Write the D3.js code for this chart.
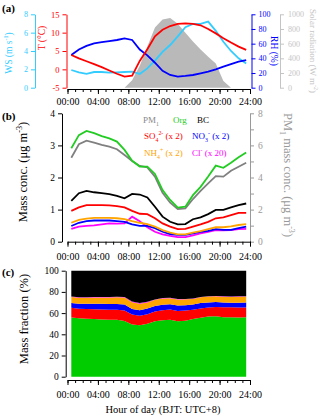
<!DOCTYPE html>
<html>
<head>
<meta charset="utf-8">
<script src="https://cdn.jsdelivr.net/npm/d3@7"></script>
<style>
  html, body { margin: 0; padding: 0; background: #fff; }
  svg { display: block; font-family: "Liberation Serif", "Times New Roman", "DejaVu Serif", serif; }
</style>
</head>
<body>
<svg id="chart" width="320" height="417"></svg>
<script>
// hour of day (bin centres) and x tick labels
const hours = [0.5, 1.5, 2.5, 3.5, 4.5, 5.5, 6.5, 7.5, 8.5, 9.5, 10.5, 11.5,
  12.5, 13.5, 14.5, 15.5, 16.5, 17.5, 18.5, 19.5, 20.5, 21.5, 22.5, 23.5];
const hourTicks = [0, 4, 8, 12, 16, 20, 24];
const hourLabels = ['00:00', '04:00', '08:00', '12:00', '16:00', '20:00', '24:00'];

// (a) meteorology
const ws = [1.93, 1.68, 1.5, 1.71, 1.71, 1.64, 1.68, 1.71, 1.75, 1.5, 2.1, 2.95,
  3.9, 4.65, 5.6, 6.6, 6.95, 6.95, 7.2, 6.2, 5.0, 4.0, 3.2, 2.65];
const temp = [3.9, 3.0, 2.2, 1.4, 0.6, -0.3, -1.2, -2.0, -1.7, 2.3, 5.5, 9.0,
  10.8, 11.8, 12.4, 12.5, 12.4, 12.0, 11.0, 9.8, 8.5, 7.3, 6.2, 5.3];
const rh = [44.5, 52, 57, 60.5, 62, 63.6, 65, 67.3, 65, 52, 44, 34,
  23, 17.3, 15, 16, 17.3, 19.6, 21.8, 25, 28.6, 32, 35.4, 37.7];
const solar = [0, 0, 0, 0, 0, 0, 0, 0, 100, 300, 560, 820,
  930, 950, 870, 750, 630, 520, 420, 330, 90, 0, 0, 0];

// (b) species, as plotted (SO4, NO3, NH4 x2, Cl x20)
const pm1 = [5.23, 6.07, 6.29, 6.17, 6.03, 5.92, 5.76, 5.40, 5.03, 4.72, 4.63, 4.05,
  3.05, 2.43, 2.04, 2.08, 2.66, 3.16, 3.64, 4.09, 4.05, 4.42, 4.67, 4.92];
const org = [2.91, 3.32, 3.45, 3.38, 3.29, 3.22, 3.12, 2.86, 2.52, 2.34, 2.34, 2.11,
  1.61, 1.30, 1.06, 1.09, 1.45, 1.71, 2.03, 2.37, 2.30, 2.46, 2.63, 2.78];
const bc = [1.27, 1.51, 1.58, 1.54, 1.51, 1.48, 1.43, 1.35, 1.49, 1.47, 1.38, 1.09,
  0.78, 0.62, 0.54, 0.55, 0.70, 0.76, 0.86, 0.99, 0.99, 1.07, 1.14, 1.19];
const so4 = [0.96, 1.07, 1.14, 1.14, 1.14, 1.13, 1.11, 1.07, 0.96, 0.87, 0.86, 0.73,
  0.57, 0.47, 0.39, 0.40, 0.47, 0.54, 0.62, 0.73, 0.76, 0.83, 0.90, 0.90];
const nh4 = [0.59, 0.68, 0.72, 0.74, 0.74, 0.74, 0.73, 0.70, 0.64, 0.59, 0.55, 0.47,
  0.36, 0.28, 0.23, 0.23, 0.28, 0.33, 0.39, 0.45, 0.45, 0.48, 0.52, 0.55];
const no3 = [0.49, 0.59, 0.64, 0.66, 0.66, 0.66, 0.64, 0.62, 0.54, 0.49, 0.49, 0.42,
  0.31, 0.24, 0.21, 0.21, 0.26, 0.31, 0.34, 0.39, 0.37, 0.37, 0.42, 0.47];
const cl = [0.40, 0.47, 0.49, 0.51, 0.54, 0.57, 0.56, 0.57, 0.78, 0.64, 0.45, 0.31,
  0.23, 0.18, 0.14, 0.14, 0.20, 0.26, 0.31, 0.36, 0.35, 0.36, 0.39, 0.40];

// (c) species order in the stack and the factor they were multiplied by in (b)
const species = ['Org', 'SO4', 'NO3', 'NH4', 'Cl', 'BC'];
const factors = [1, 2, 2, 2, 20, 1];
const speciesColors = ['#00cc00', '#ff0000', '#0000ff', '#ffa500', '#ff00ff', '#000000'];

const FONT = '"Liberation Serif", "Times New Roman", "DejaVu Serif", serif';
const C_WS = '#33ccff', C_SR = '#c4c4c4';

const svg = d3.select('#chart');
const x = d3.scaleLinear().domain([0, 24]).range([67.5, 250]);

// text with sub/superscripts: parts = [[str, ''|'sub'|'sup'], ...]
function rich(t, parts, size) {
  let shift = 0;
  parts.forEach(([s, kind]) => {
    const target = kind === 'sub' ? size * 0.3 : kind === 'sup' ? -size * 0.4 : 0;
    t.append('tspan')
      .attr('dy', target - shift)
      .attr('font-size', kind ? size * 0.65 : size)
      .text(s);
    shift = target;
  });
  return t;
}

function styleAxis(g, color, size) {
  g.attr('font-family', FONT).attr('font-size', size).attr('color', color);
  g.selectAll('line, path').attr('stroke-width', 1);
}

function hourAxis(y, pad) {
  svg.append('g').attr('transform', `translate(0,${y})`)
    .call(d3.axisBottom(x).tickValues(d3.range(0, 25)).tickSize(3).tickSizeOuter(0).tickFormat(''))
    .call(g => styleAxis(g, '#000', 10));
  svg.append('g').attr('transform', `translate(0,${y})`)
    .call(d3.axisBottom(x).tickValues(hourTicks).tickSize(5).tickSizeOuter(0)
      .tickPadding(pad).tickFormat((d, i) => hourLabels[i]))
    .call(g => styleAxis(g, '#000', 10))
    .call(g => g.select('.domain').remove());
}

function vAxis(axis, xpos, color, size) {
  return svg.append('g').attr('transform', `translate(${xpos},0)`)
    .call(axis.tickFormat(d => d)).call(g => styleAxis(g, color, size));
}

function vTitle(xpos, ypos, angle, color, size, parts) {
  const t = svg.append('text')
    .attr('transform', `translate(${xpos},${ypos}) rotate(${angle})`)
    .attr('text-anchor', 'middle').attr('fill', color).attr('font-family', FONT);
  rich(t, parts, size);
}

function panelLabel(txt, y) {
  svg.append('text').attr('x', 2).attr('y', y).attr('font-family', FONT)
    .attr('font-weight', 'bold').attr('font-size', 11).text(txt);
}

// ---------- (a) ----------
const yWS = d3.scaleLinear().domain([0, 8]).range([87.7, 14.3]);
const yT = d3.scaleLinear().domain([-5, 15]).range([87.7, 14.3]);
const yRH = d3.scaleLinear().domain([0, 100]).range([87.7, 14.3]);
const ySR = d3.scaleLinear().domain([0, 1000]).range([87.7, 14.3]);

svg.append('path')
  .attr('fill', '#b9b9b9')
  .attr('d', d3.area().x((d, i) => x(hours[i])).y0(ySR(0)).y1(d => ySR(d))(solar));

const lineA = [[ws, yWS, C_WS], [rh, yRH, '#0000ff'], [temp, yT, '#ff0000']];
lineA.forEach(([vals, ys, col]) => {
  svg.append('path').attr('fill', 'none').attr('stroke', col).attr('stroke-width', 1.8)
    .attr('d', d3.line().x((d, i) => x(hours[i])).y(d => ys(d))(vals));
});

vAxis(d3.axisLeft(yWS).tickValues([0, 2, 4, 6, 8]).tickSize(4).tickSizeOuter(0).tickPadding(3), 35, C_WS, 8);
vAxis(d3.axisLeft(yT).tickValues([-5, 0, 5, 10, 15]).tickSize(4).tickSizeOuter(0).tickPadding(3), 66.5, '#ff0000', 8.5);
vAxis(d3.axisRight(yRH).tickValues([0, 20, 40, 60, 80, 100]).tickSize(4).tickSizeOuter(0).tickPadding(3), 251.5, '#0000ff', 8);
vAxis(d3.axisRight(ySR).tickValues([0, 200, 400, 600, 800, 1000]).tickSize(4).tickSizeOuter(0).tickPadding(4), 280, C_SR, 8);
hourAxis(89, 4);

vTitle(12, 53, -90, C_WS, 9.5, [['WS (m s', ''], ['-1', 'sup'], [')', '']]);
vTitle(45, 38, -90, '#ff0000', 9.5, [['T (°C)', '']]);
vTitle(271, 51, 90, '#0000ff', 9.5, [['RH (%)', '']]);
vTitle(310, 51, 90, C_SR, 9, [['Solar radiation (W m', ''], ['-2', 'sup'], [')', '']]);
panelLabel('(a)', 12);

// ---------- (b) ----------
const yB = d3.scaleLinear().domain([0, 4]).range([241.7, 113.3]);
const yPM = d3.scaleLinear().domain([0, 8]).range([241.7, 113.3]);

const lineB = [
  [cl, yB, '#ff00ff'], [no3, yB, '#0000ff'], [nh4, yB, '#ffa500'], [so4, yB, '#ff0000'],
  [bc, yB, '#000000'], [pm1, yPM, '#808080'], [org, yB, '#22cc22']
];
lineB.forEach(([vals, ys, col]) => {
  svg.append('path').attr('fill', 'none').attr('stroke', col).attr('stroke-width', 1.8)
    .attr('d', d3.line().x((d, i) => x(hours[i])).y(d => ys(d))(vals));
});

vAxis(d3.axisLeft(yB).tickValues([0, 1, 2, 3, 4]).tickSize(4).tickSizeOuter(0).tickPadding(3), 62, '#000', 9.5);
vAxis(d3.axisRight(yPM).tickValues(d3.range(0, 9)).tickSize(4).tickSizeOuter(0).tickPadding(4), 250, '#999', 9.5)
  .selectAll('.tick text').text(d => d % 2 ? '' : d);
hourAxis(241.7, 6);

vTitle(27, 172, -90, '#000', 12.5, [['Mass conc. (μg m', ''], ['-3', 'sup'], [')', '']]);
vTitle(284, 175, 90, '#999', 12.5, [['PM', ''], ['1', 'sub'], [' mass conc. (μg m', ''], ['-3', 'sup'], [')', '']]);
panelLabel('(b)', 120);

const legend = [
  [143, 123, '#888', [['PM', ''], ['1', 'sub']]],
  [173, 123, '#22cc22', [['Org', '']]],
  [197, 123, '#000', [['BC', '']]],
  [144, 139, '#ff0000', [['SO', ''], ['4', 'sub'], ['2-', 'sup'], [' (x 2)', '']]],
  [192, 139, '#0000ff', [['NO', ''], ['3', 'sub'], ['-', 'sup'], [' (x 2)', '']]],
  [144, 156, '#ffa500', [['NH', ''], ['4', 'sub'], ['+', 'sup'], [' (x 2)', '']]],
  [192, 156, '#ff00ff', [['Cl', ''], ['-', 'sup'], [' (x 20)', '']]]
];
legend.forEach(([lx, ly, col, parts]) => {
  const t = svg.append('text').attr('x', lx).attr('y', ly).attr('fill', col).attr('font-family', FONT);
  rich(t, parts, 9);
});

// ---------- (c) ----------
const yC = d3.scaleLinear().domain([0, 100]).range([376.7, 270.7]);
const rows = hours.map((h, i) => {
  const vals = [org[i], so4[i], no3[i], nh4[i], cl[i], bc[i]];
  const r = { h };
  species.forEach((s, k) => { r[s] = vals[k] / factors[k]; });
  return r;
});
const stacked = d3.stack().keys(species).offset(d3.stackOffsetExpand)(rows);
const areaC = d3.area().x(d => x(d.data.h)).y0(d => yC(d[0] * 100)).y1(d => yC(d[1] * 100));
svg.append('g').selectAll('path').data(stacked).join('path')
  .attr('fill', (d, i) => speciesColors[i])
  .attr('d', areaC);

vAxis(d3.axisLeft(yC).tickValues([0, 20, 40, 60, 80, 100]).tickSize(4).tickSizeOuter(0).tickPadding(3), 65.7, '#000', 9.5);
hourAxis(380, 6);

vTitle(28, 319, -90, '#000', 12.5, [['Mass fraction (%)', '']]);
panelLabel('(c)', 276);

svg.append('text').attr('x', 163).attr('y', 413).attr('text-anchor', 'middle')
  .attr('font-family', FONT).attr('font-size', 10.5).text('Hour of day (BJT: UTC+8)');
</script>
</body>
</html>
